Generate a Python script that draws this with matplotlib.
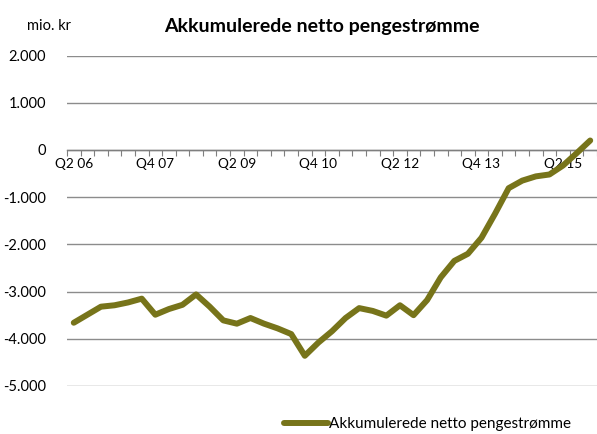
import matplotlib.pyplot as plt
from matplotlib.ticker import FuncFormatter

plt.rcParams['font.family'] = ['Lato', 'DejaVu Sans']

# quarters Q2 06 .. Q4 15
quarters = []
for year in range(6, 16):
    for q in range(1, 5):
        if (year == 6 and q < 2):
            continue
        quarters.append('Q%d %02d' % (q, year))

values = [-3660, -3490, -3320, -3290, -3230, -3150, -3490, -3370, -3280, -3060,
          -3320, -3610, -3680, -3560, -3680, -3780, -3900, -4360, -4080, -3840,
          -3560, -3350, -3410, -3510, -3290, -3500, -3180, -2700, -2350, -2200,
          -1860, -1350, -810, -650, -560, -520, -330, -70, 200]

line_color = '#77741A'
grid_color = '#8C8C8C'

fig = plt.figure(figsize=(5.97, 4.34), dpi=100)
ax = fig.add_axes([0.1122, 0.1106, 0.8878, 0.7615])

x = list(range(len(values)))
ax.plot(x, values, color=line_color, linewidth=4.3, solid_capstyle='round',
        solid_joinstyle='round', label='Akkumulerede netto pengestrømme', zorder=3)

ax.set_ylim(-5000, 2000)
ax.set_xlim(-0.5, len(values) - 0.5)
ax.set_yticks(range(-5000, 2001, 1000))
ax.yaxis.set_major_formatter(FuncFormatter(lambda v, p: '{:,.0f}'.format(v).replace(',', '.')))
ax.yaxis.grid(True, color=grid_color, linewidth=1)
ax.set_axisbelow(True)
ax.tick_params(axis='y', length=0, pad=15, labelsize=10.5)

for s in ['top', 'right', 'left']:
    ax.spines[s].set_visible(False)
ax.spines['bottom'].set_position(('data', 0))
ax.spines['bottom'].set_color('#7F7F7F')
ax.spines['bottom'].set_linewidth(1)

# tick marks on category boundaries, labels every 6th quarter
ax.set_xticks([i - 0.5 for i in range(len(values) + 1)])
ax.set_xticklabels([])
ax.tick_params(axis='x', which='major', direction='out', length=4, color='#7F7F7F')
ax.set_xticks(list(range(0, len(values), 6)), minor=True)
ax.set_xticklabels([quarters[i] for i in range(0, len(values), 6)], minor=True)
ax.tick_params(axis='x', which='minor', length=0, pad=6, labelsize=9.8)

fig.text(0.045, 0.94, 'mio. kr', fontsize=10.5, va='center', ha='left')
fig.text(0.5385, 0.94, 'Akkumulerede netto pengestrømme', fontsize=14,
         fontweight='bold', va='center', ha='center')

fig.legend(loc='center', bbox_to_anchor=(0.716, 0.022), frameon=False,
           fontsize=11, handlelength=2.9, handletextpad=0.1)

fig.savefig('out.png', dpi=100)
